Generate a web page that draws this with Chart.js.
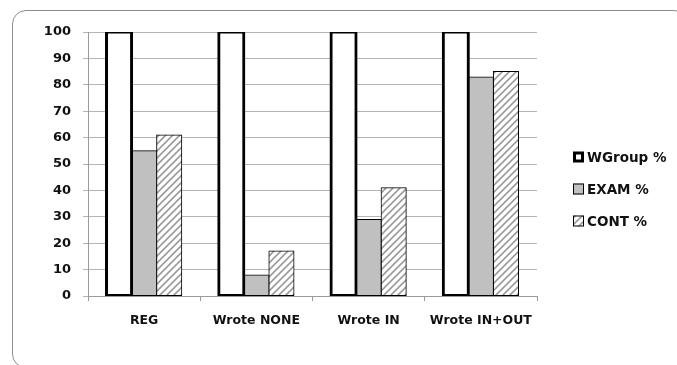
<!DOCTYPE html>
<html>
<head>
<meta charset="utf-8">
<script src="https://cdn.jsdelivr.net/npm/chart.js@4"></script>
<style>
  html, body { margin: 0; padding: 0; background: #fff; overflow: hidden; }
  #wrap { position: relative; width: 677px; height: 365px; }
  #frame { position: absolute; left: 12px; top: 10px; width: 676px; height: 358px;
           border: 1px solid #8c8c8c; border-radius: 14px; box-sizing: border-box; }
  canvas { position: absolute; left: 0; top: 0; }
</style>
</head>
<body>
<div id="wrap">
  <div id="frame"></div>
  <canvas id="c" width="677" height="365"></canvas>
</div>
<script>
// Groups along the x axis
const categories = ['REG', 'Wrote NONE', 'Wrote IN', 'Wrote IN+OUT'];
// Percentages per group
const wgroupPct = [100, 100, 100, 100];
const examPct   = [55, 8, 29, 83];
const contPct   = [61, 17, 41, 85];
// Series names
const seriesNames = ['WGroup %', 'EXAM %', 'CONT %'];
// Value axis
const yMin = 0, yMax = 100, yStep = 10;

const FONT = 'DejaVu Sans';
const canvas = document.getElementById('c');
const ctx = canvas.getContext('2d');

// Diagonal hatch fill for the CONT series
function makeHatch() {
  const s = 7;
  const t = document.createElement('canvas');
  t.width = s; t.height = s;
  const g = t.getContext('2d');
  g.fillStyle = '#ffffff';
  g.fillRect(0, 0, s, s);
  g.strokeStyle = '#9c9c9c';
  g.lineWidth = 1.6;
  g.beginPath();
  g.moveTo(-1, s + 1); g.lineTo(s + 1, -1);
  g.moveTo(-s / 2 - 1, s / 2 + 1); g.lineTo(s / 2 + 1, -s / 2 - 1);
  g.moveTo(s / 2 - 1, s * 1.5 + 1); g.lineTo(s * 1.5 + 1, s / 2 - 1);
  g.stroke();
  return ctx.createPattern(t, 'repeat');
}
const hatch = makeHatch();

// Legend drawn to the right of the plot, from the dataset styles
const sideLegend = {
  id: 'sideLegend',
  afterDraw(chart) {
    const c = chart.ctx;
    const x0 = 573, yStart = 157, gap = 32, box = 11;
    c.save();
    chart.data.datasets.forEach((ds, i) => {
      const cy = yStart + i * gap;
      const bw = ds.legendBorder;
      c.fillStyle = ds.backgroundColor;
      c.fillRect(x0, cy - box / 2, box, box);
      c.lineWidth = bw;
      c.strokeStyle = '#000';
      c.strokeRect(x0 + bw / 2, cy - box / 2 + bw / 2, box - bw, box - bw);
      c.fillStyle = '#111';
      c.font = 'bold 13.5px ' + FONT;
      c.textBaseline = 'middle';
      c.textAlign = 'left';
      c.fillText(ds.label, x0 + box + 3, cy + 1);
    });
    c.restore();
  }
};

new Chart(ctx, {
  type: 'bar',
  data: {
    labels: categories,
    datasets: [
      { label: seriesNames[0], data: wgroupPct, backgroundColor: '#ffffff',
        borderColor: '#000000', borderWidth: 3, borderSkipped: false, inflateAmount: 1.5, legendBorder: 3 },
      { label: seriesNames[1], data: examPct, backgroundColor: '#c0c0c0',
        borderColor: '#000000', borderWidth: 1, borderSkipped: false, inflateAmount: 0.5, legendBorder: 1 },
      { label: seriesNames[2], data: contPct, backgroundColor: hatch,
        borderColor: '#000000', borderWidth: 1, borderSkipped: false, inflateAmount: 0.5, legendBorder: 1 }
    ]
  },
  options: {
    responsive: false,
    animation: false,
    events: [],
    layout: { padding: { left: 0, right: 140, top: 32, bottom: 29 } },
    datasets: { bar: { categoryPercentage: 0.67, barPercentage: 1.0 } },
    plugins: { legend: { display: false }, tooltip: { enabled: false } },
    scales: {
      x: {
        offset: true,
        grid: { display: true, drawOnChartArea: false, drawTicks: true, tickLength: 5, color: '#9a9a9a' },
        border: { display: true, color: '#9a9a9a' },
        ticks: { color: '#111', font: { family: FONT, size: 12.5, weight: 'bold' }, padding: 12, maxRotation: 0 },
        afterFit(scale) { scale.height = 40; }
      },
      y: {
        min: yMin, max: yMax,
        grid: { color: '#b4b4b4', drawTicks: true, tickLength: 5 },
        border: { display: true, color: '#9a9a9a' },
        ticks: { stepSize: yStep, color: '#111', font: { family: FONT, size: 13, weight: 'bold' }, padding: 12 },
        afterFit(scale) { scale.width = 88; }
      }
    }
  },
  plugins: [sideLegend]
});
</script>
</body>
</html>
